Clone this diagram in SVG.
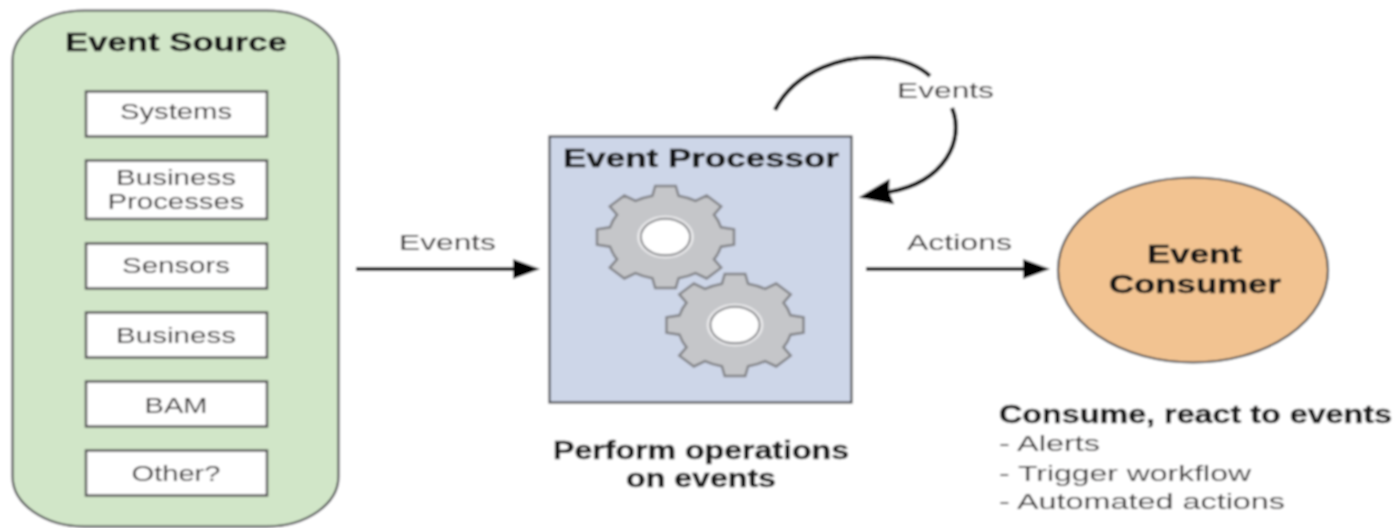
<svg xmlns="http://www.w3.org/2000/svg" width="1394" height="528" viewBox="0 0 1394 528">
<style>
text{font-family:"Liberation Sans",Arial,sans-serif}
.r{font-size:22.500px;fill:#2f2c2c}
.b{font-size:25.500px;font-weight:700;fill:#151414;stroke:#151414;stroke-width:.4px}
.m{text-anchor:middle}
.box{fill:#fff;stroke:#555;stroke-width:2.500}
.panel{stroke:#484a4e;stroke-width:2.200}
.line{fill:none;stroke:#050505;stroke-width:4.200}
.gear{fill:#c5c6c9;stroke:#838488;stroke-width:2.500;vector-effect:non-scaling-stroke}
</style>
<defs>
<filter id="soft" x="0" y="0" width="1394" height="528" filterUnits="userSpaceOnUse"><feGaussianBlur stdDeviation="0.8"/></filter>
<marker id="head" markerUnits="userSpaceOnUse" markerWidth="30" markerHeight="26" refX="2" refY="13" orient="auto"><path d="M0 3L27 13L0 23Z" fill="#050505"/></marker>
<marker id="headBig" markerUnits="userSpaceOnUse" markerWidth="38" markerHeight="30" refX="3" refY="15" orient="auto"><path d="M0 2L34 15L0 28L3 15Z" fill="#050505"/></marker>
<g id="gearShape">
<path class="gear" d="M81 -19L100 -15L100 15L81 19A83 83 0 0 1 70.700 43.800L81.300 60.100L60.100 81.300L43.800 70.700A83 83 0 0 1 19 81L15 100L-15 100L-19 81A83 83 0 0 1 -43.800 70.700L-60.100 81.300L-81.300 60.100L-70.700 43.800A83 83 0 0 1 -81 19L-100 15L-100 -15L-81 -19A83 83 0 0 1 -70.700 -43.800L-81.300 -60.100L-60.100 -81.300L-43.800 -70.700A83 83 0 0 1 -19 -81L-15 -100L15 -100L19 -81A83 83 0 0 1 43.800 -70.700L60.100 -81.300L81.300 -60.100L70.700 -43.800A83 83 0 0 1 81 -19Z"/>
<ellipse rx="40" ry="40" fill="#fff" stroke="#e6e6e8" stroke-width="2" vector-effect="non-scaling-stroke"/>
<ellipse rx="36" ry="36" fill="#fff" stroke="#7d7e82" stroke-width="2" vector-effect="non-scaling-stroke"/>
</g>
</defs>
<g filter="url(#soft)">
<rect width="1394" height="528" fill="#fff"/>
<g id="event-source">
<rect class="panel" x="12.500" y="10.500" width="326" height="516" rx="72" ry="50" fill="#d1e6c8"/>
<text class="b m" x="176" y="51" textLength="222" lengthAdjust="spacingAndGlyphs">Event Source</text>
</g>
<g id="source-systems"><rect class="box" x="86" y="91.500" width="181" height="45"/><text class="r m" x="176" y="119" textLength="112" lengthAdjust="spacingAndGlyphs">Systems</text></g>
<g id="source-business-processes"><rect class="box" x="86" y="160.500" width="181" height="58.500"/><text class="r m" x="176" y="185" textLength="120" lengthAdjust="spacingAndGlyphs">Business</text><text class="r m" x="176" y="209" textLength="137" lengthAdjust="spacingAndGlyphs">Processes</text></g>
<g id="source-sensors"><rect class="box" x="86" y="243.500" width="181" height="45"/><text class="r m" x="176" y="273" textLength="108" lengthAdjust="spacingAndGlyphs">Sensors</text></g>
<g id="source-business"><rect class="box" x="86" y="312.500" width="181" height="45"/><text class="r m" x="176" y="343" textLength="120" lengthAdjust="spacingAndGlyphs">Business</text></g>
<g id="source-bam"><rect class="box" x="86" y="381.500" width="181" height="45"/><text class="r m" x="176" y="413" textLength="63" lengthAdjust="spacingAndGlyphs">BAM</text></g>
<g id="source-other"><rect class="box" x="86" y="450.500" width="181" height="45"/><text class="r m" x="176" y="481" textLength="89" lengthAdjust="spacingAndGlyphs">Other?</text></g>
<g id="event-processor">
<rect class="panel" x="549.500" y="136.500" width="302" height="266" fill="#cdd6e8"/>
<text class="b m" x="701" y="167" textLength="276" lengthAdjust="spacingAndGlyphs">Event Processor</text>
<use href="#gearShape" transform="translate(665.500 237) scale(.685 .51)"/>
<use href="#gearShape" transform="translate(735 325) scale(.685 .51)"/>
<text class="b m" x="701" y="459" textLength="296" lengthAdjust="spacingAndGlyphs">Perform operations</text>
<text class="b m" x="701" y="487" textLength="150" lengthAdjust="spacingAndGlyphs">on events</text>
</g>
<g id="event-consumer">
<ellipse class="panel" cx="1193" cy="270" rx="135" ry="92.500" fill="#f2c391"/>
<text class="b m" x="1194.500" y="263" textLength="95" lengthAdjust="spacingAndGlyphs">Event</text>
<text class="b m" x="1195" y="293" textLength="172" lengthAdjust="spacingAndGlyphs">Consumer</text>
<text class="b" x="999" y="423" textLength="393" lengthAdjust="spacingAndGlyphs">Consume, react to events</text>
<text class="r" x="999" y="451" textLength="101" lengthAdjust="spacingAndGlyphs">- Alerts</text>
<text class="r" x="999" y="481" textLength="252" lengthAdjust="spacingAndGlyphs">- Trigger workflow</text>
<text class="r" x="999" y="509" textLength="286" lengthAdjust="spacingAndGlyphs">- Automated actions</text>
</g>
<g id="connectors">
<path class="line" d="M356 269H515" marker-end="url(#head)"/>
<text class="r m" x="447.500" y="250" textLength="97" lengthAdjust="spacingAndGlyphs">Events</text>
<path class="line" d="M866 269H1025" marker-end="url(#head)"/>
<text class="r m" x="959.500" y="250" textLength="105" lengthAdjust="spacingAndGlyphs">Actions</text>
<path class="line" d="M775 110C795 70 845 54 885 58C905 60 920 67 930 76"/>
<path class="line" d="M952 108C965 140 945 182 889 192" marker-end="url(#headBig)"/>
<text class="r m" x="945.500" y="98" textLength="97" lengthAdjust="spacingAndGlyphs">Events</text>
</g>
</g>
</svg>
